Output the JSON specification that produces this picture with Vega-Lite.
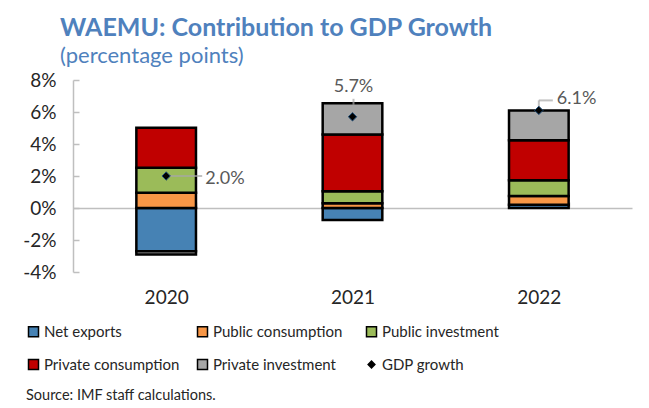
{
  "$schema": "https://vega.github.io/schema/vega-lite/v6.json",
  "width": 559,
  "height": 192,
  "autosize": {"type": "none"},
  "padding": {"left": 73, "top": 80, "right": 17, "bottom": 136},
  "background": "white",
  "config": {"font": "Lato", "view": {"stroke": null}},
  "title": {
    "text": "WAEMU: Contribution to GDP Growth",
    "subtitle": "(percentage points)",
    "anchor": "start",
    "frame": "group",
    "dx": -13,
    "offset": 4,
    "fontSize": 25,
    "fontWeight": "bold",
    "color": "#4F81BD",
    "subtitleColor": "#4F81BD",
    "subtitleFontSize": 22,
    "subtitlePadding": 5
  },
  "datasets": {
    "contrib": [
      {"year": "2020", "component": "Net exports", "value": -2.7},
      {"year": "2020", "component": "Public consumption", "value": 0.95},
      {"year": "2020", "component": "Public investment", "value": 1.56},
      {"year": "2020", "component": "Private consumption", "value": 2.5},
      {"year": "2020", "component": "Private investment", "value": -0.2},
      {"year": "2021", "component": "Net exports", "value": -0.75},
      {"year": "2021", "component": "Public consumption", "value": 0.3},
      {"year": "2021", "component": "Public investment", "value": 0.75},
      {"year": "2021", "component": "Private consumption", "value": 3.55},
      {"year": "2021", "component": "Private investment", "value": 1.95},
      {"year": "2022", "component": "Net exports", "value": 0.2},
      {"year": "2022", "component": "Public consumption", "value": 0.55},
      {"year": "2022", "component": "Public investment", "value": 0.98},
      {"year": "2022", "component": "Private consumption", "value": 2.51},
      {"year": "2022", "component": "Private investment", "value": 1.85}
    ],
    "gdp": [
      {"year": "2020", "value": 2.0},
      {"year": "2021", "value": 5.7},
      {"year": "2022", "value": 6.1}
    ]
  },
  "encoding": {
    "x": {
      "field": "year",
      "type": "nominal",
      "scale": {"paddingInner": 0.68, "paddingOuter": 0.34},
      "axis": {
        "title": null,
        "orient": "bottom",
        "offset": -64,
        "domainColor": "#BFBFBF",
        "domainWidth": 1.5,
        "tickColor": "#BFBFBF",
        "tickSize": -6,
        "tickWidth": 1.5,
        "tickBand": "extent",
        "labelPadding": 86,
        "labelFontSize": 19,
        "labelColor": "#262626",
        "labelAngle": 0
      }
    },
    "y": {
      "field": "value",
      "type": "quantitative",
      "scale": {"domain": [-4, 8], "nice": false},
      "axis": {
        "title": null,
        "values": [-4, -2, 0, 2, 4, 6, 8],
        "labelExpr": "datum.value + '%'",
        "labelOverlap": false,
        "labelFlush": false,
        "grid": false,
        "domainColor": "#BFBFBF",
        "domainWidth": 1.5,
        "tickColor": "#BFBFBF",
        "tickWidth": 1.5,
        "tickSize": -6,
        "labelPadding": 23,
        "labelFontSize": 19,
        "labelColor": "#262626"
      }
    }
  },
  "layer": [
    {
      "data": {"name": "contrib"},
      "transform": [
        {"calculate": "indexof(['Net exports', 'Public consumption', 'Public investment', 'Private consumption', 'Private investment'], datum.component)", "as": "ord"}
      ],
      "mark": {"type": "bar", "stroke": "black", "strokeWidth": 2.5},
      "encoding": {
        "order": {"field": "ord", "type": "quantitative", "sort": "ascending"},
        "color": {
          "field": "component",
          "type": "nominal",
          "scale": {
            "domain": ["Net exports", "Public consumption", "Public investment", "Private consumption", "Private investment", "GDP growth"],
            "range": ["#4682B4", "#F79646", "#9BBB59", "#C00000", "#A6A6A6", "#000000"]
          },
          "legend": {
            "orient": "none",
            "legendX": -47,
            "legendY": 244,
            "direction": "horizontal",
            "columns": 3,
            "gridAlign": "all",
            "columnPadding": 14,
            "rowPadding": 16,
            "symbolType": "square",
            "symbolSize": 100,
            "symbolStrokeColor": "black",
            "symbolStrokeWidth": 1.5,
            "labelFontSize": 15,
            "labelColor": "#262626",
            "labelOffset": 3,
            "labelLimit": 300,
            "title": "Source: IMF staff calculations.",
            "titleOrient": "bottom",
            "titleAnchor": "start",
            "titleLimit": 400,
            "titleFontWeight": "normal",
            "titleFontSize": 14.5,
            "titleColor": "#262626",
            "titlePadding": 16,
            "encode": {
              "symbols": {
                "update": {
                  "shape": {"signal": "datum.value === 'GDP growth' ? 'diamond' : 'square'"},
                  "size": {"signal": "datum.value === 'GDP growth' ? 45 : 100"}
                }
              }
            }
          }
        }
      }
    },
    {
      "data": {"name": "gdp"},
      "transform": [{"filter": "datum.year === '2020'"}],
      "mark": {"type": "tick", "orient": "horizontal", "color": "#A6A6A6", "thickness": 2, "size": 36, "xOffset": 18}
    },
    {
      "data": {"name": "gdp"},
      "transform": [{"filter": "datum.year === '2022'"}],
      "mark": {"type": "tick", "orient": "vertical", "color": "#A6A6A6", "thickness": 2, "size": 10, "yOffset": -5}
    },
    {
      "data": {"name": "gdp"},
      "transform": [{"filter": "datum.year === '2022'"}],
      "mark": {"type": "tick", "orient": "horizontal", "color": "#A6A6A6", "thickness": 2, "size": 14, "xOffset": 7, "yOffset": -10}
    },
    {
      "data": {"name": "gdp"},
      "transform": [{"filter": "datum.year === '2021'"}],
      "mark": {"type": "tick", "orient": "vertical", "color": "#A6A6A6", "thickness": 2, "size": 6, "yOffset": -15, "xOffset": 1}
    },
    {
      "data": {"name": "gdp"},
      "mark": {"type": "point", "shape": "diamond", "filled": true, "size": 70, "stroke": "#1F4E79", "strokeWidth": 1, "opacity": 1},
      "encoding": {
        "color": {"datum": "GDP growth"}
      }
    },
    {
      "data": {"name": "gdp"},
      "transform": [
        {"filter": "datum.year === '2020'"},
        {"calculate": "format(datum.value, '.1f') + '%'", "as": "label"}
      ],
      "mark": {"type": "text", "align": "left", "baseline": "middle", "dx": 39, "dy": 3, "fontSize": 18, "color": "#595959"},
      "encoding": {"text": {"field": "label"}}
    },
    {
      "data": {"name": "gdp"},
      "transform": [
        {"filter": "datum.year === '2021'"},
        {"calculate": "format(datum.value, '.1f') + '%'", "as": "label"}
      ],
      "mark": {"type": "text", "align": "center", "baseline": "middle", "dx": 1, "dy": -30, "fontSize": 18, "color": "#595959"},
      "encoding": {"text": {"field": "label"}}
    },
    {
      "data": {"name": "gdp"},
      "transform": [
        {"filter": "datum.year === '2022'"},
        {"calculate": "format(datum.value, '.1f') + '%'", "as": "label"}
      ],
      "mark": {"type": "text", "align": "left", "baseline": "middle", "dx": 18, "dy": -11, "fontSize": 18, "color": "#595959"},
      "encoding": {"text": {"field": "label"}}
    }
  ]
}
